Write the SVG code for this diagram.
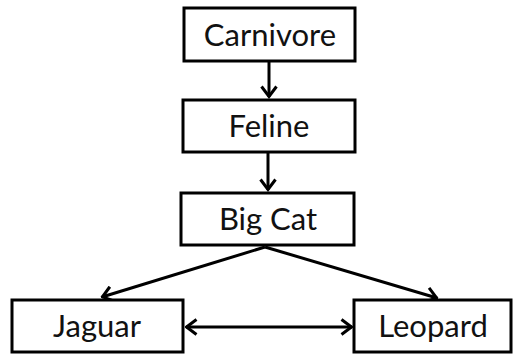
<svg xmlns="http://www.w3.org/2000/svg" width="517" height="354" viewBox="0 0 517 354">
  <style>
    .box { fill: #ffffff; stroke: #000000; stroke-width: 3; }
    .label { font-family: Lato, "Open Sans", "Liberation Sans", sans-serif; font-size: 31px; fill: #111111; text-anchor: middle; }
    .edge { stroke: #000000; stroke-width: 3; fill: none; }
  </style>
  <defs>
    <marker id="arrow" viewBox="0 0 14 18" refX="12.5" refY="9" markerWidth="14" markerHeight="18" markerUnits="userSpaceOnUse" orient="auto-start-reverse">
      <path d="M2,1.5 L12,9 L2,16.5" fill="none" stroke="#000000" stroke-width="3"/>
    </marker>
  </defs>
  <rect width="517" height="354" fill="#ffffff"/>

  <g id="connectors">
    <line class="edge" x1="269" y1="62" x2="269" y2="97" marker-end="url(#arrow)"/>
    <line class="edge" x1="268" y1="153" x2="268" y2="190" marker-end="url(#arrow)"/>
    <line class="edge" x1="265" y1="247" x2="102" y2="297" marker-end="url(#arrow)"/>
    <line class="edge" x1="265" y1="247" x2="437" y2="298" marker-end="url(#arrow)"/>
    <line class="edge" x1="186" y1="327" x2="352" y2="327" marker-start="url(#arrow)" marker-end="url(#arrow)"/>
  </g>

  <g id="carnivore">
    <rect class="box" x="184" y="8" width="171" height="53"/>
    <text class="label" x="270" y="46">Carnivore</text>
  </g>
  <g id="feline">
    <rect class="box" x="183" y="100" width="172" height="52"/>
    <text class="label" x="269" y="137">Feline</text>
  </g>
  <g id="big-cat">
    <rect class="box" x="181" y="193" width="173" height="52"/>
    <text class="label" x="268" y="230">Big Cat</text>
  </g>
  <g id="jaguar">
    <rect class="box" x="12" y="300" width="171" height="52"/>
    <text class="label" x="97" y="337">Jaguar</text>
  </g>
  <g id="leopard">
    <rect class="box" x="354" y="300" width="157" height="52"/>
    <text class="label" x="433" y="337">Leopard</text>
  </g>
</svg>
